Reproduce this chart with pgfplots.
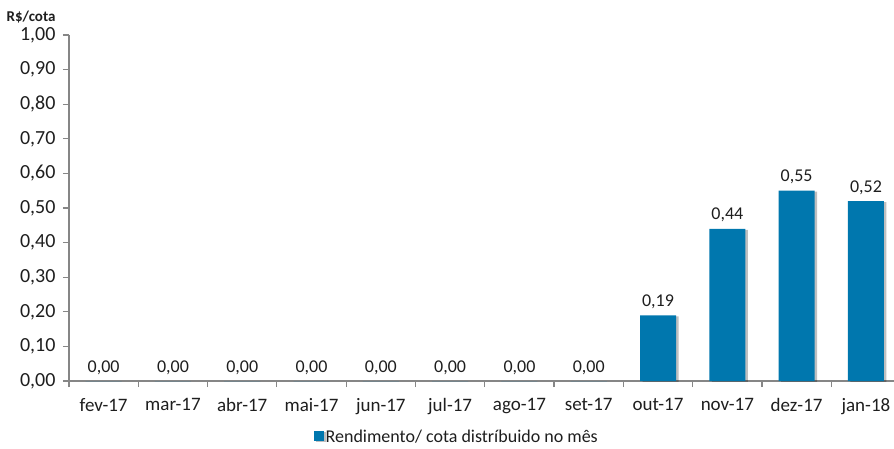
\documentclass[border=0pt]{standalone}
\usepackage{pgfplots}
\pgfplotsset{compat=1.18}
\usetikzlibrary{shadows}
\usepackage{fontspec}
\setmainfont{Carlito}
\definecolor{barblue}{RGB}{0,119,174}
\definecolor{axgray}{RGB}{134,134,134}
\definecolor{txt}{RGB}{30,30,30}

\begin{document}
\begin{tikzpicture}
  \begin{axis}[
      at={(69pt,67pt)}, anchor=south west,
      scale only axis,
      width=825pt, height=346pt,
      ybar, bar width=0.52,
      xmin=-0.5, xmax=11.405,
      ymin=0, ymax=1,
      ytick={0,0.1,...,1.01},
      xtick={0,...,11},
      xticklabels={fev-17,mar-17,abr-17,mai-17,jun-17,jul-17,ago-17,set-17,out-17,nov-17,dez-17,jan-18},
      minor xtick={-0.5,0.5,...,11.5},
      axis x line*=bottom,
      axis y line*=left,
      axis line style={draw=axgray, line width=1.2pt, -},
      tick align=outside,
      tick style={draw=axgray, line width=1.2pt},
      major tick length=6pt,
      minor tick length=6pt,
      major x tick style={draw=none},
      tick label style={text=txt},
      yticklabel style={font=\fontsize{20}{23}\selectfont, xshift=-4pt},
      xticklabel style={font=\fontsize{19}{22}\selectfont, yshift=-8pt},
      /pgf/number format/.cd, fixed, fixed zerofill, precision=2, use comma, assume math mode=true,
      /pgfplots/.cd,
      ylabel={\textbf{R\$/cota}},
      ylabel style={rotate=-90, at={(rel axis cs:0,1)}, anchor=south east,
        xshift=-10pt, yshift=8pt, font=\fontsize{15}{18}\selectfont, text=txt},
      nodes near coords,
      nodes near coords style={font=\fontsize{18}{21}\selectfont, text=txt, yshift=3pt,
        /pgf/number format/.cd, fixed, fixed zerofill, precision=2, use comma, assume math mode=true},
      legend style={at={(0.47,-0.162)}, anchor=center, draw=none, fill=none,
        font=\fontsize{18}{21}\selectfont, text=txt},
      legend image code/.code={\fill[barblue] (0pt,-4pt) rectangle (10pt,6pt);},
    ]
    \addplot[draw=none, fill=barblue,
      drop shadow={shadow xshift=2.5pt, shadow yshift=-1pt, opacity=0.25, fill=black}] coordinates {
      (0,0) (1,0) (2,0) (3,0) (4,0) (5,0) (6,0) (7,0)
      (8,0.19) (9,0.44) (10,0.55) (11,0.52)
    };
    \legend{Rendimento/ cota distríbuido no mês}
  \end{axis}
  \pgfresetboundingbox
  \path[use as bounding box] (0,0) rectangle (894pt,448pt);
\end{tikzpicture}
\end{document}
